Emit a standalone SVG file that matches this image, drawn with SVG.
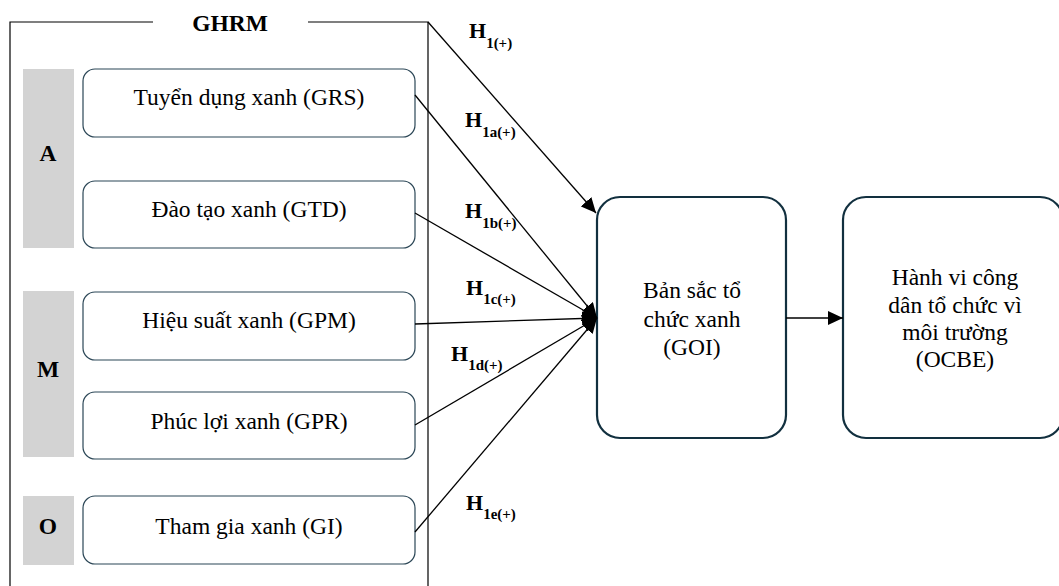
<svg xmlns="http://www.w3.org/2000/svg" width="1059" height="586" viewBox="0 0 1059 586">
  <style>
    text { font-family: "Liberation Serif", "Times New Roman", serif; fill: #000; }
    .lbl { font-size: 23.5px; text-anchor: middle; }
    .big { font-size: 23.5px; text-anchor: middle; }
    .bold { font-weight: bold; }
    .h { font-size: 22px; font-weight: bold; }
    .sub { font-size: 15px; font-weight: bold; }
    .box { fill: #fff; stroke: #2b4656; stroke-width: 1.2; }
    .bigbox { fill: #fff; stroke: #12303f; stroke-width: 2.2; }
    .bar { fill: #d3d3d3; }
    .frame { fill: none; stroke: #000; stroke-width: 1.2; }
    .conn { stroke: #000; stroke-width: 1.3; fill: none; marker-end: url(#ah); }
  </style>
  <defs>
    <marker id="ah" markerUnits="userSpaceOnUse" markerWidth="16" markerHeight="14" refX="15" refY="7" orient="auto">
      <path d="M0,0 L15,7 L0,14 z" fill="#000"/>
    </marker>
  </defs>
  <rect width="1059" height="586" fill="#fff"/>

  <g id="ghrm">
    <path class="frame" d="M10,590 L10,22 L153,22 M308,22 L428,22 L428,590"/>
    <text class="big bold" x="230" y="31">GHRM</text>
  </g>

  <g id="bar-A">
    <rect class="bar" x="23" y="69" width="51" height="179"/>
    <text class="big bold" x="48" y="161">A</text>
  </g>
  <g id="bar-M">
    <rect class="bar" x="23" y="291" width="51" height="166"/>
    <text class="big bold" x="48" y="377">M</text>
  </g>
  <g id="bar-O">
    <rect class="bar" x="23" y="496" width="51" height="69"/>
    <text class="big bold" x="48" y="534">O</text>
  </g>

  <g id="GRS">
    <rect class="box" x="83" y="69" width="332" height="68" rx="12"/>
    <text class="lbl" x="249" y="105">Tuyển dụng xanh (GRS)</text>
  </g>
  <g id="GTD">
    <rect class="box" x="83" y="181" width="332" height="67" rx="12"/>
    <text class="lbl" x="249" y="217">Đào tạo xanh (GTD)</text>
  </g>
  <g id="GPM">
    <rect class="box" x="83" y="292" width="332" height="68" rx="12"/>
    <text class="lbl" x="249" y="328">Hiệu suất xanh (GPM)</text>
  </g>
  <g id="GPR">
    <rect class="box" x="83" y="392" width="332" height="67" rx="12"/>
    <text class="lbl" x="249" y="429">Phúc lợi xanh (GPR)</text>
  </g>
  <g id="GI">
    <rect class="box" x="83" y="496" width="332" height="68" rx="12"/>
    <text class="lbl" x="249" y="534">Tham gia xanh (GI)</text>
  </g>

  <g id="GOI">
    <rect class="bigbox" x="597" y="197" width="189" height="241" rx="23"/>
    <text class="lbl" x="692" y="298">Bản sắc tổ</text>
    <text class="lbl" x="692" y="327">chức xanh</text>
    <text class="lbl" x="692" y="355">(GOI)</text>
  </g>
  <g id="OCBE">
    <rect class="bigbox" x="843" y="197" width="220" height="241" rx="23"/>
    <text class="lbl" x="955" y="285">Hành vi công</text>
    <text class="lbl" x="955" y="313">dân tổ chức vì</text>
    <text class="lbl" x="955" y="340">môi trường</text>
    <text class="lbl" x="955" y="367">(OCBE)</text>
  </g>

  <g id="connectors">
    <line class="conn" x1="428" y1="22" x2="596" y2="213"/>
    <line class="conn" x1="415" y1="95" x2="597" y2="318"/>
    <line class="conn" x1="415" y1="213" x2="597" y2="318"/>
    <line class="conn" x1="415" y1="324" x2="597" y2="318"/>
    <line class="conn" x1="415" y1="425" x2="597" y2="318"/>
    <line class="conn" x1="415" y1="532" x2="597" y2="318"/>
    <line class="conn" x1="786" y1="318" x2="843" y2="318"/>
  </g>

  <g id="hypotheses">
    <text x="469" y="38"><tspan class="h">H</tspan><tspan class="sub" dy="10">1(+)</tspan></text>
    <text x="465" y="127"><tspan class="h">H</tspan><tspan class="sub" dy="10">1a(+)</tspan></text>
    <text x="465" y="218"><tspan class="h">H</tspan><tspan class="sub" dy="10">1b(+)</tspan></text>
    <text x="466" y="295"><tspan class="h">H</tspan><tspan class="sub" dy="9">1c(+)</tspan></text>
    <text x="451" y="361"><tspan class="h">H</tspan><tspan class="sub" dy="9">1d(+)</tspan></text>
    <text x="466" y="510"><tspan class="h">H</tspan><tspan class="sub" dy="9">1e(+)</tspan></text>
  </g>
</svg>
